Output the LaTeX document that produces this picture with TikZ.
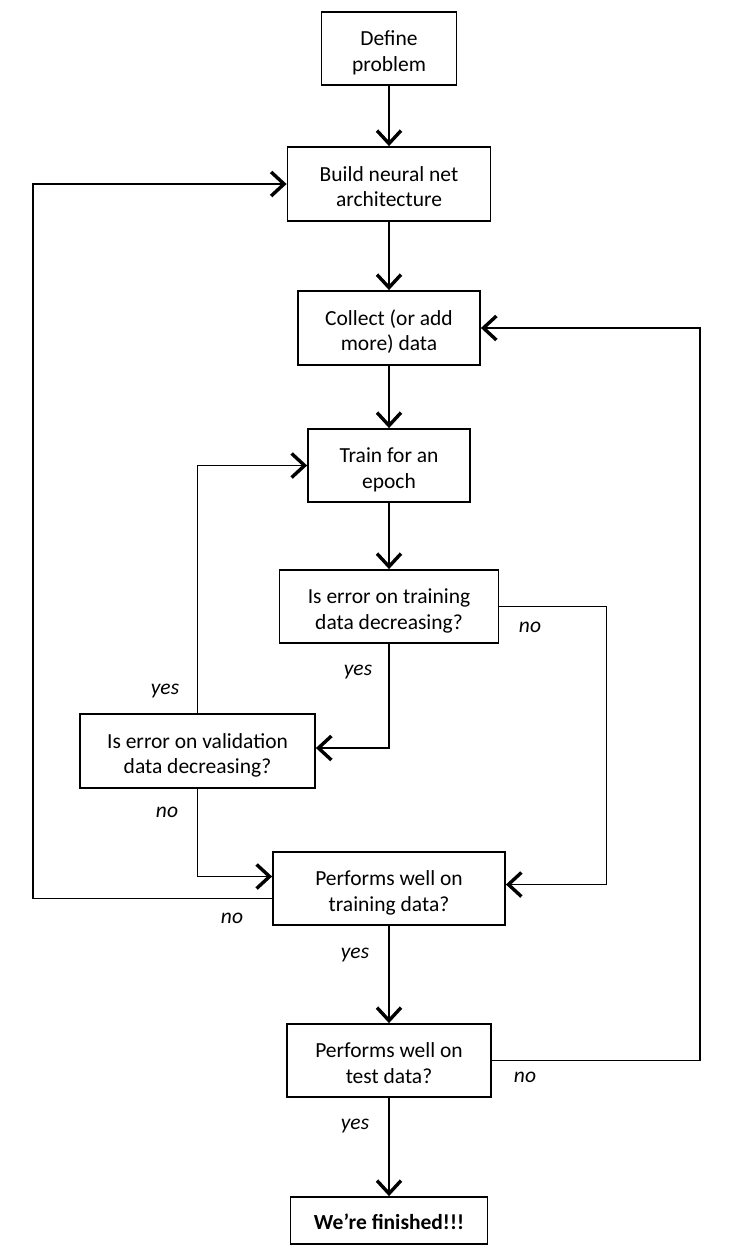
\documentclass[tikz,border=0pt]{standalone}
\usepackage{fontspec}
\setmainfont{Carlito}
\usetikzlibrary{arrows.meta}
\begin{document}
\begin{tikzpicture}[x=1pt,y=-1pt,
 box/.style={draw,line width=1.8pt,inner sep=0pt,align=center,text height=50pt,text depth=5pt,font=\fontsize{21.5}{25.5}\selectfont},
 conn/.style={line width=1.5pt},
 arr/.style={conn,-{Straight Barb[length=13pt,width=24pt,line width=3.4pt]}},
 lab/.style={font=\fontsize{21.5}{25}\selectfont\itshape}]
\useasboundingbox (0,0) rectangle (730,1258);
\node[box,minimum width=135pt,minimum height=73pt] (def) at (389,48.5) {Define\\problem};
\node[box,minimum width=203pt,minimum height=74pt] (build) at (389,184) {Build neural net\\architecture};
\node[box,minimum width=182pt,minimum height=74pt] (collect) at (389,328) {Collect (or add\\more) data};
\node[box,minimum width=162pt,minimum height=73pt] (train) at (389,465.5) {Train for an\\epoch};
\node[box,minimum width=219pt,minimum height=73pt] (terr) at (389,606.5) {Is error on training\\data decreasing?};
\node[box,minimum width=235pt,minimum height=74pt] (verr) at (197.5,751) {Is error on validation\\data decreasing?};
\node[box,minimum width=232pt,minimum height=73pt] (ptrain) at (389,888.5) {Performs well on\\training data?};
\node[box,minimum width=204pt,minimum height=73pt] (ptest) at (389,1060.5) {Performs well on\\test data?};
\node[box,minimum width=197pt,minimum height=47pt,text height=23pt,text depth=5pt,font=\fontsize{21.5}{25}\selectfont\bfseries] (fin) at (389,1220.5) {We’re finished!!!};
\draw[arr] (def) -- (build);
\draw[arr] (build) -- (collect);
\draw[arr] (collect) -- (train);
\draw[arr] (train) -- (terr);
\draw[arr] (terr.south) |- ([yshift=3pt]verr.east);
\draw[arr] (terr.east) -- ++(107,0) |- ([yshift=4pt]ptrain.east);
\draw[arr] (verr.north) |- (train.west);
\draw[arr] (verr.south) |- ([yshift=12pt]ptrain.west);
\draw[arr] ([yshift=-10pt]ptrain.west) -- ++(-239,0) |- (build.west);
\draw[arr] (ptrain) -- (ptest);
\draw[arr] (ptest.east) -- ++(208,0) |- (collect.east);
\draw[arr] (ptest) -- (fin);
\node[lab] (l1) at (530,627) {no};
\node[lab] (l2) at (358,672) {yes};
\node[lab] (l3) at (165,691) {yes};
\node[lab] (l4) at (167,812) {no};
\node[lab] (l5) at (232,918) {no};
\node[lab] (l6) at (355,955) {yes};
\node[lab] (l7) at (525,1077) {no};
\node[lab] (l8) at (355,1126) {yes};
\end{tikzpicture}
\end{document}
